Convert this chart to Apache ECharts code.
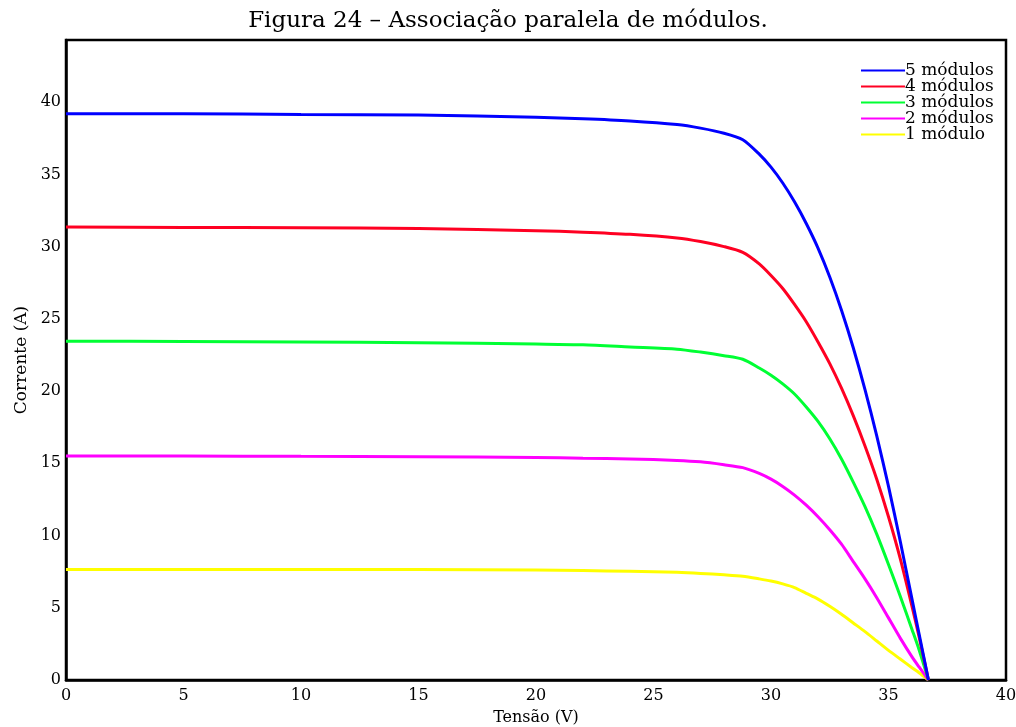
<!DOCTYPE html>
<html>
<head>
<meta charset="utf-8">
<script src="https://cdn.jsdelivr.net/npm/echarts@6/dist/echarts.min.js"></script>
<style>
html,body{margin:0;padding:0;background:#fff;}
#chart{width:1016px;height:727px;}
</style>
</head>
<body>
<div id="chart"></div>
<script>
const tensao = [0, 5, 10, 15, 20, 22, 24, 26, 27, 28, 28.8, 29.5, 30, 30.5, 31, 31.5, 32, 32.5, 33, 33.5, 34, 34.5, 35, 35.5, 36, 36.3, 36.7];
const mod5 = [39.2, 39.2, 39.15, 39.1, 38.95, 38.85, 38.7, 38.45, 38.2, 37.85, 37.4, 36.4, 35.5, 34.4, 33.1, 31.6, 29.9, 27.9, 25.6, 23.0, 20.1, 16.9, 13.4, 9.6, 5.6, 3.2, 0];
const mod4 = [31.35, 31.33, 31.3, 31.25, 31.1, 31.0, 30.85, 30.6, 30.35, 30.0, 29.6, 28.8, 28.0, 27.1, 26.0, 24.8, 23.4, 21.9, 20.2, 18.3, 16.2, 13.9, 11.3, 8.4, 5.1, 3.0, 0];
const mod3 = [23.45, 23.43, 23.4, 23.35, 23.25, 23.2, 23.05, 22.9, 22.7, 22.45, 22.2, 21.6, 21.1, 20.5, 19.8, 18.9, 17.9, 16.7, 15.3, 13.7, 12.0, 10.1, 8.0, 5.8, 3.5, 2.1, 0];
const mod2 = [15.5, 15.5, 15.48, 15.46, 15.4, 15.35, 15.3, 15.2, 15.1, 14.9, 14.7, 14.3, 13.9, 13.4, 12.8, 12.1, 11.3, 10.4, 9.4, 8.2, 7.0, 5.7, 4.3, 2.9, 1.6, 0.9, 0];
const mod1 = [7.65, 7.65, 7.65, 7.65, 7.62, 7.58, 7.52, 7.45, 7.38, 7.28, 7.18, 7.0, 6.85, 6.65, 6.4, 6.0, 5.6, 5.1, 4.55, 3.95, 3.35, 2.7, 2.05, 1.45, 0.85, 0.5, 0];
const seriesNames = ['5 módulos', '4 módulos', '3 módulos', '2 módulos', '1 módulo'];
const seriesValues = [mod5, mod4, mod3, mod2, mod1];
const seriesColors = ['#0000ff', '#ff0022', '#00ff33', '#ff00ff', '#ffff00'];
const titleText = 'Figura 24 – Associação paralela de módulos.';
const xName = 'Tensão (V)';
const yName = 'Corrente (A)';

const FONT = 'DejaVu Serif';
const chart = echarts.init(document.getElementById('chart'), null, {renderer: 'canvas'});
const series = seriesNames.map((n, i) => ({
  name: n,
  type: 'line',
  data: tensao.map((x, k) => [x, seriesValues[i][k]]),
  smooth: 0.25,
  symbol: 'none',
  lineStyle: {color: seriesColors[i], width: 3},
  itemStyle: {color: seriesColors[i]},
  z: 10 - i
})).reverse();

chart.setOption({
  animation: false,
  backgroundColor: '#fff',
  title: {
    text: titleText,
    left: 'center',
    top: 5,
    textStyle: {fontFamily: FONT, fontSize: 23, fontWeight: 'normal', color: '#000'}
  },
  legend: {
    data: seriesNames,
    orient: 'vertical',
    left: 856,
    top: 57,
    itemWidth: 44,
    itemHeight: 14,
    itemGap: -1,
    icon: 'path://M0,6 L44,6 L44,8 L0,8 Z',
    textStyle: {fontFamily: FONT, fontSize: 17, lineHeight: 14, color: '#000', padding: [0, 0, 0, -5]}
  },
  grid: {
    left: 66, right: 10, top: 40, bottom: 47,
    outerBoundsMode: 'none',
    containLabel: false,
    show: true, borderColor: '#000', borderWidth: 2.5, backgroundColor: 'transparent'
  },
  xAxis: {
    type: 'value', min: 0, max: 40, interval: 5,
    name: xName, nameLocation: 'middle', nameGap: 30,
    nameTextStyle: {fontFamily: FONT, fontSize: 16, color: '#000'},
    axisLine: {show: true, lineStyle: {color: '#000', width: 2.5}},
    axisTick: {show: false},
    splitLine: {show: false},
    axisLabel: {fontFamily: FONT, fontSize: 16, color: '#000', margin: 8}
  },
  yAxis: {
    type: 'value', min: 0, max: 44.3, interval: 5,
    name: yName, nameLocation: 'middle', nameGap: 36, nameRotate: 90,
    nameTextStyle: {fontFamily: FONT, fontSize: 17, color: '#000'},
    axisLine: {show: true, lineStyle: {color: '#000', width: 2.5}},
    axisTick: {show: false},
    splitLine: {show: false},
    axisLabel: {fontFamily: FONT, fontSize: 16, color: '#000', margin: 5, showMaxLabel: false,
      formatter: v => (v % 5 === 0 ? String(v) : '')}
  },
  series: series
});
</script>
</body>
</html>
